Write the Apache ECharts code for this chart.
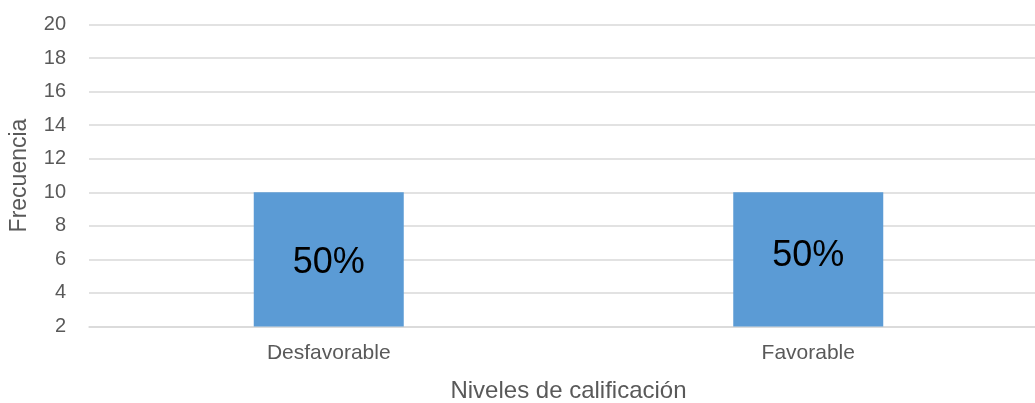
<!DOCTYPE html>
<html>
<head>
<meta charset="utf-8">
<script src="https://cdn.jsdelivr.net/npm/echarts@6/dist/echarts.min.js"></script>
<style>html,body{margin:0;padding:0;background:#fff}#c{width:1035px;height:403px}</style>
</head>
<body>
<div id="c"></div>
<script>
const categories = ['Desfavorable', 'Favorable'];
const frequencies = [10, 10];
const percentLabels = ['50%', '50%'];
const yTicks = { min: 2, max: 20, interval: 2 };

const labelOffsets = [[0, 4], [0, -3]];
const chart = echarts.init(document.getElementById('c'), null, { renderer: 'canvas' });
const font = '"Liberation Sans", Arial, sans-serif';
chart.setOption({
  animation: false,
  grid: { left: 89, width: 959, top: 24.5, bottom: 76.5, containLabel: false, outerBoundsMode: 'none' },
  xAxis: {
    type: 'category',
    data: categories,
    name: 'Niveles de calificación',
    nameLocation: 'middle',
    nameGap: 53,
    nameTextStyle: { color: '#595959', fontSize: 24, fontFamily: font },
    axisLine: { show: true, lineStyle: { color: '#D9D9D9', width: 1.5 } },
    axisTick: { show: false },
    axisLabel: { color: '#595959', fontSize: 21, fontFamily: font, margin: 16 }
  },
  yAxis: {
    type: 'value',
    min: yTicks.min, max: yTicks.max, interval: yTicks.interval,
    name: 'Frecuencia',
    nameLocation: 'middle',
    nameGap: 58,
    nameTextStyle: { color: '#595959', fontSize: 23, fontFamily: font },
    axisLine: { show: false },
    axisTick: { show: false },
    splitLine: { lineStyle: { color: '#D9D9D9', width: 1.5 } },
    axisLabel: { color: '#595959', fontSize: 20, fontFamily: font, margin: 23 }
  },
  series: [{
    type: 'bar',
    barWidth: 150,
    data: frequencies.map((v, i) => ({
      value: v,
      label: { show: true, position: 'inside', formatter: percentLabels[i], offset: labelOffsets[i] }
    })),
    itemStyle: { color: '#5B9BD5' },
    label: { color: '#000', fontSize: 36, fontFamily: font }
  }]
});
</script>
</body>
</html>
